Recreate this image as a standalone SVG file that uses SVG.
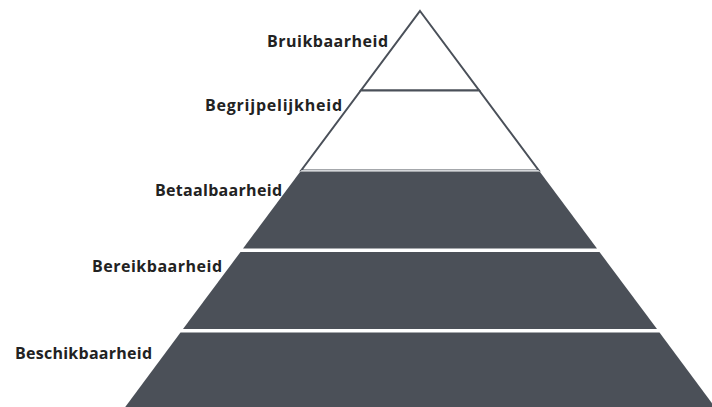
<svg xmlns="http://www.w3.org/2000/svg" width="712" height="407" viewBox="0 0 712 407">
  <style>
    .lbl { font-family: "Open Sans", "Noto Sans", "Liberation Sans", sans-serif; font-weight: 700; font-size: 16px; fill: #222222; }
    .open { fill: #ffffff; stroke: #4a5059; stroke-width: 2; stroke-linejoin: miter; }
    .solid { fill: #4b5058; stroke: none; }
  </style>
  <rect width="712" height="407" fill="#ffffff"/>

  <!-- pyramid layers, top to bottom -->
  <g id="layer-bruikbaarheid">
    <polygon class="open" points="420,11 479.2,90.5 360.8,90.5"/>
    <text class="lbl" x="267" y="46.5" textLength="121" lengthAdjust="spacing">Bruikbaarheid</text>
  </g>
  <g id="layer-begrijpelijkheid">
    <polygon class="open" points="360.8,90.5 479.2,90.5 538.8,170.5 301.2,170.5"/>
    <line x1="301.2" y1="170.5" x2="538.8" y2="170.5" stroke="#d4d6d9" stroke-width="1.2"/>
    <text class="lbl" x="205" y="111" textLength="137" lengthAdjust="spacing">Begrijpelijkheid</text>
  </g>
  <g id="layer-betaalbaarheid">
    <polygon class="solid" points="300,172 540,172 597,248.5 243,248.5"/>
    <text class="lbl" x="155" y="196" textLength="127" lengthAdjust="spacing">Betaalbaarheid</text>
  </g>
  <g id="layer-bereikbaarheid">
    <polygon class="solid" points="240.5,252 599.5,252 657,329 183,329"/>
    <text class="lbl" x="92" y="272" textLength="130" lengthAdjust="spacing">Bereikbaarheid</text>
  </g>
  <g id="layer-beschikbaarheid">
    <polygon class="solid" points="180.5,332.5 659.5,332.5 717,410 123,410"/>
    <text class="lbl" x="15" y="358.5" textLength="137" lengthAdjust="spacing">Beschikbaarheid</text>
  </g>

  <g id="connectors"/>
</svg>
